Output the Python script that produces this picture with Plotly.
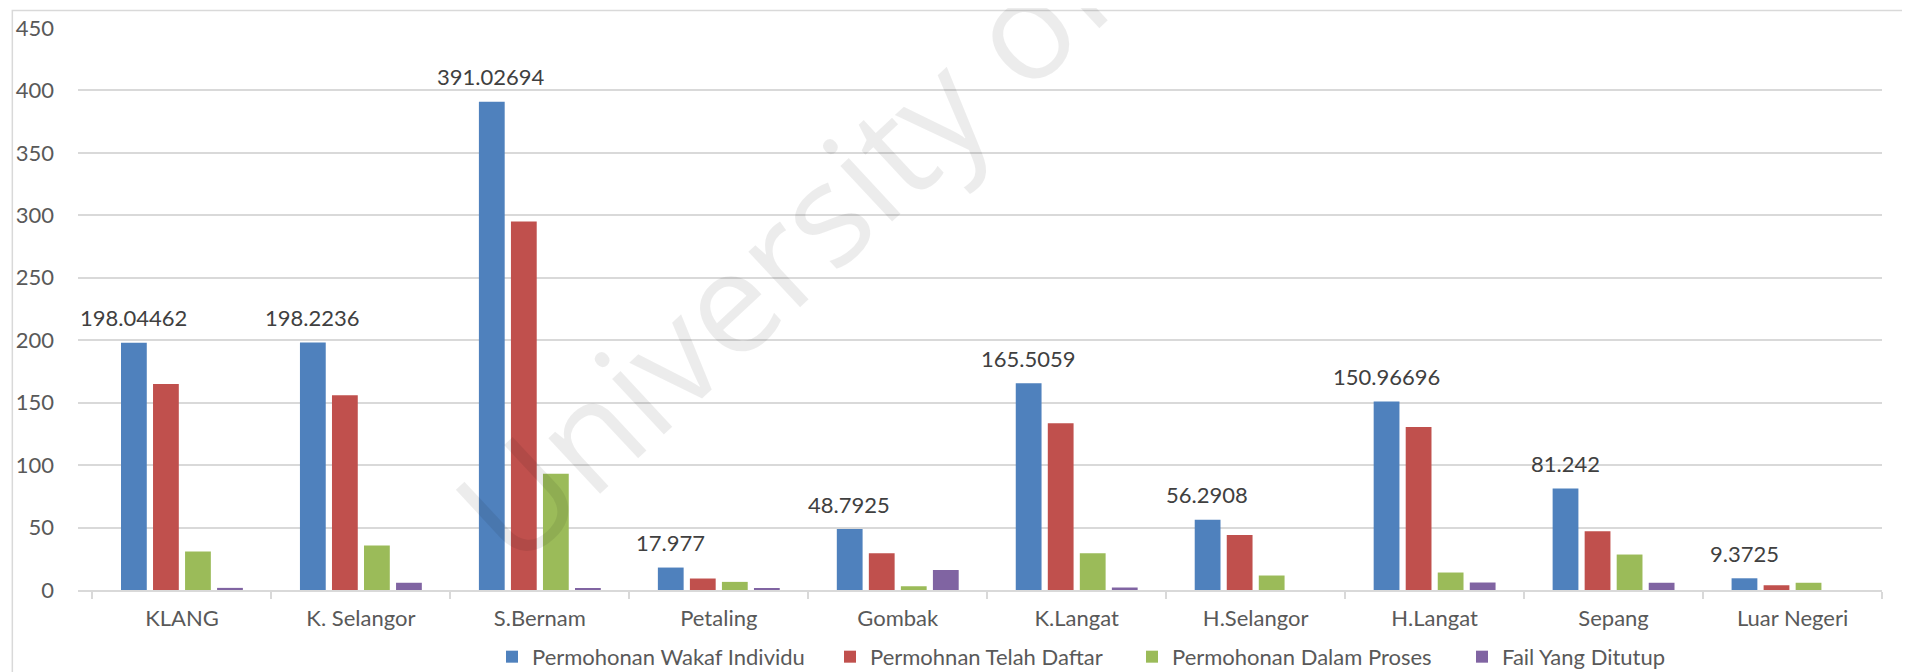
import plotly.graph_objects as go

categories = ["KLANG", "K. Selangor", "S.Bernam", "Petaling", "Gombak",
              "K.Langat", "H.Selangor", "H.Langat", "Sepang", "Luar Negeri"]
series_names = ["Permohonan Wakaf Individu", "Permohnan Telah Daftar",
                "Permohonan Dalam Proses", "Fail Yang Ditutup"]
wakaf_individu = [198.04462, 198.2236, 391.02694, 17.977, 48.7925,
                  165.5059, 56.2908, 150.96696, 81.242, 9.3725]
telah_daftar = [165, 156, 295, 9.2, 29.5, 133.6, 44, 130.5, 47, 3.8]
dalam_proses = [30.8, 35.6, 93, 6.5, 3, 29.5, 11.6, 14, 28.4, 5.8]
fail_ditutup = [1.7, 5.8, 1.5, 1.5, 16, 2, 0, 6, 5.8, 0]
colors = ["#4F81BD", "#C0504D", "#9BBB59", "#8064A2"]
legend_widths = [293, 257, 285, None]
y_ticks = [0, 50, 100, 150, 200, 250, 300, 350, 400, 450]

FONT = "Lato"
TXT = "#595959"
# the page body has an 8px margin, so the figure is sized to fit the window
W, H = 1902, 664
ML, MR, MT, MB = 70, 28, 20, 82
BARGAP, GROUPGAP = 0.284, 0.195

fig = go.Figure()
all_series = [wakaf_individu, telah_daftar, dalam_proses, fail_ditutup]
for i, (name, vals) in enumerate(zip(series_names, all_series)):
    kw = {}
    if legend_widths[i]:
        kw["legendwidth"] = legend_widths[i]
    fig.add_trace(go.Bar(x=categories, y=vals, name=name,
                         marker=dict(color=colors[i], line=dict(width=0)), **kw))

# data labels for the first series, centred over its bar within the group
plot_w = W - ML - MR
slot = plot_w / len(categories) * (1 - BARGAP) / len(all_series)
first_offset = -(len(all_series) - 1) / 2 * slot
annotations = [dict(x=c, y=v, xref="x", yref="y", text=str(v), showarrow=False,
                    xshift=first_offset, yshift=25, yanchor="middle",
                    font=dict(family=FONT, size=22, color="#404040"))
               for c, v in zip(categories, wakaf_individu)]
annotations.append(dict(text="University of Malaya", xref="paper", yref="paper",
                        x=0.493, y=0.915, xanchor="center", yanchor="middle",
                        showarrow=False, textangle=-43,
                        font=dict(family="Open Sans", size=142,
                                  color="rgba(0,0,0,0.075)")))

fig.update_layout(
    width=W, height=H,
    paper_bgcolor="white", plot_bgcolor="white",
    barmode="group", bargap=BARGAP, bargroupgap=GROUPGAP,
    margin=dict(l=ML, r=MR, t=MT, b=MB, autoexpand=False),
    font=dict(family=FONT, size=22, color=TXT),
    showlegend=True,
    legend=dict(orientation="h", x=0.2295, xanchor="left", y=-0.119, yanchor="middle",
                font=dict(family=FONT, size=22, color=TXT), traceorder="normal"),
    annotations=annotations,
    shapes=[dict(type="rect", xref="paper", yref="paper", x0=-0.0364, x1=1.2,
                 y0=-0.7, y1=1.031, line=dict(color="#D9D9D9", width=1.5),
                 layer="below")],
)
fig.update_yaxes(range=[0, 450], tickvals=y_ticks, showgrid=True, gridcolor="#D9D9D9",
                 gridwidth=1.5, zeroline=False, showline=False, ticks="",
                 ticklabelstandoff=23, tickfont=dict(size=22, color=TXT))
fig.update_xaxes(showline=True, linecolor="#D9D9D9", linewidth=1.5, ticks="outside",
                 tickson="boundaries", ticklen=7, tickcolor="#D9D9D9", tickwidth=1.5,
                 ticklabelstandoff=8, tickfont=dict(size=22, color=TXT))

fig.write_html("out.html")
